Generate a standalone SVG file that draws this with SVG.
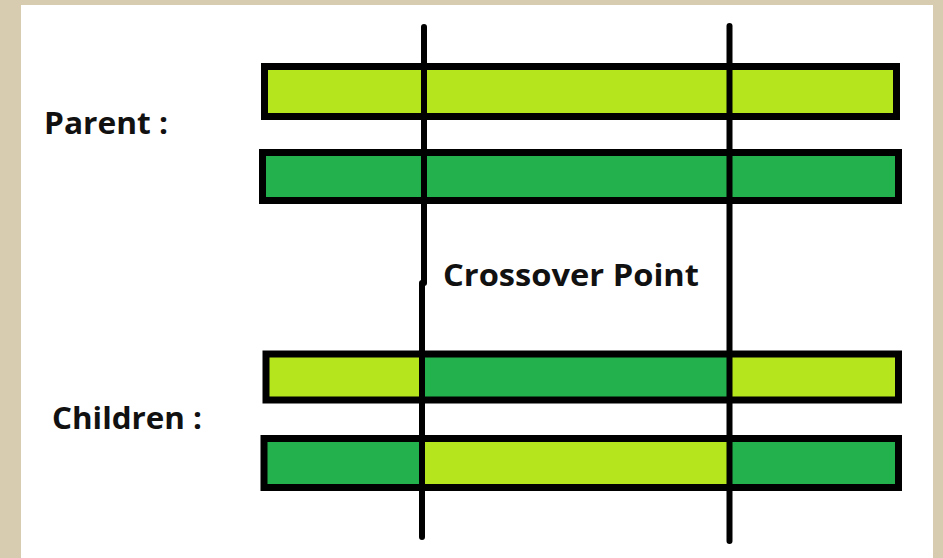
<svg xmlns="http://www.w3.org/2000/svg" width="943" height="558" viewBox="0 0 943 558">
<style>
.bar{stroke:#000;stroke-width:7}
.lime{fill:#B5E61D}
.green{fill:#22B14C}
.lbl{font-family:"Open Sans","Liberation Sans",sans-serif;font-weight:bold;font-size:31px;fill:#111}
.cut{stroke:#000;stroke-width:6;stroke-linecap:round;fill:none}
</style>
<rect x="0" y="0" width="943" height="558" fill="#D8CCB0"/>
<rect x="21" y="5" width="912" height="553" fill="#fff"/>
<g id="parent1">
<rect class="lime" x="264.5" y="66.5" width="632" height="50"/>
<rect class="bar" x="264.5" y="66.5" width="632" height="50" fill="none"/>
</g>
<g id="parent2">
<rect class="green" x="262.5" y="152.5" width="636" height="48"/>
<rect class="bar" x="262.5" y="152.5" width="636" height="48" fill="none"/>
</g>
<g id="child1">
<rect class="lime" x="266" y="354" width="157" height="46"/>
<rect class="green" x="423" y="354" width="306" height="46"/>
<rect class="lime" x="729" y="354" width="169.5" height="46"/>
<rect class="bar" x="266" y="354" width="632.5" height="46" fill="none"/>
</g>
<g id="child2">
<rect class="green" x="264" y="438.5" width="159" height="49"/>
<rect class="lime" x="423" y="438.5" width="306" height="49"/>
<rect class="green" x="729" y="438.5" width="169.5" height="49"/>
<rect class="bar" x="264" y="438.5" width="634.5" height="49" fill="none"/>
</g>
<g id="connectors">
<line class="cut" x1="424" y1="27" x2="424" y2="283"/>
<line class="cut" x1="422" y1="283" x2="422" y2="537"/>
<line class="cut" x1="729.5" y1="26" x2="729.5" y2="541"/>
</g>
<g id="labels">
<text class="lbl" x="44" y="134" textLength="124" lengthAdjust="spacingAndGlyphs">Parent :</text>
<text class="lbl" x="52" y="429" textLength="150" lengthAdjust="spacingAndGlyphs">Children :</text>
<text class="lbl" x="443" y="286" textLength="256" lengthAdjust="spacingAndGlyphs">Crossover Point</text>
</g>
</svg>
